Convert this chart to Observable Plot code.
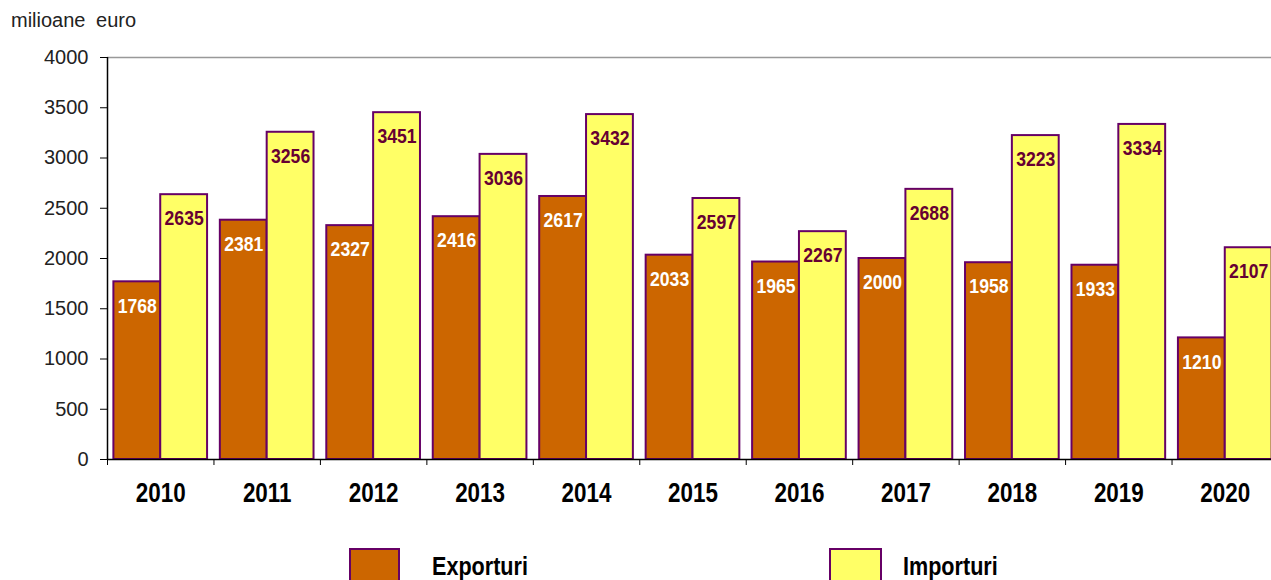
<!DOCTYPE html>
<html>
<head>
<meta charset="utf-8">
<script src="https://cdn.jsdelivr.net/npm/d3@7"></script>
<script src="https://cdn.jsdelivr.net/npm/@observablehq/plot@0.6"></script>
<style>
  html, body { margin: 0; padding: 0; background: #fff; overflow: hidden; width: 1271px; height: 580px; }
  #wrap { position: relative; width: 1271px; height: 580px; overflow: hidden; }
  #unit { position: absolute; z-index: 2; left: 11px; top: 9px; font: 20px "Liberation Sans", Arial, sans-serif; color: #222; word-spacing: 5px; }
  #chart { position: absolute; z-index: 1; left: 0; top: 0; width: 1280px; }
  #chart svg { max-width: none !important; }
  .leg { position: absolute; z-index: 2; top: 548px; display: flex; align-items: flex-start; }
  .sw { width: 51px; height: 40px; box-sizing: border-box; border: 2px solid #660066; }
  .lt { display: inline-block; font: bold 26px "Liberation Sans", Arial, sans-serif; color: #000; margin-left: 32px; margin-top: 3px; transform: scaleX(0.83); transform-origin: left top; white-space: nowrap; }
</style>
</head>
<body>
<div id="wrap">
  <div id="unit">milioane euro</div>
  <div id="chart"></div>
  <div class="leg" style="left:349px"><div class="sw" style="background:#CC6600"></div><div class="lt">Exporturi</div></div>
  <div class="leg" style="left:829px"><div class="sw" style="background:#FFFF66;width:53px"></div><div class="lt" style="margin-left:21px">Importuri</div></div>
</div>
<script>
const years = [2010, 2011, 2012, 2013, 2014, 2015, 2016, 2017, 2018, 2019, 2020];
const exporturi = [1768, 2381, 2327, 2416, 2617, 2033, 1965, 2000, 1958, 1933, 1210];
const importuri = [2635, 3256, 3451, 3036, 3432, 2597, 2267, 2688, 3223, 3334, 2107];
const yTicks = [0, 500, 1000, 1500, 2000, 2500, 3000, 3500, 4000];
const seriesNames = ["Exporturi", "Importuri"];

const barHalf = 0.44;
const rows = [];
years.forEach((yr, i) => {
  rows.push({year: yr, series: seriesNames[0], value: exporturi[i], x1: yr - barHalf, x2: yr});
  rows.push({year: yr, series: seriesNames[1], value: importuri[i], x1: yr, x2: yr + barHalf});
});
const boundaries = years.map(y => y - 0.5).concat([years[years.length - 1] + 0.5]);

const chart = Plot.plot({
  width: 1280,
  height: 532,
  marginTop: 57,
  marginBottom: 73,
  marginLeft: 107,
  marginRight: 2,
  style: {fontFamily: '"Liberation Sans", Arial, sans-serif', background: "transparent", overflow: "visible", maxWidth: "none"},
  x: {type: "linear", domain: [boundaries[0], boundaries[boundaries.length - 1]], axis: null, label: null},
  y: {domain: [0, 4000], axis: null, label: null},
  color: {domain: seriesNames, range: ["#CC6600", "#FFFF66"]},
  marks: [
    Plot.ruleY([4000], {stroke: "#999", strokeWidth: 1.5}),
    Plot.rectY(rows, {x1: "x1", x2: "x2", y: "value", fill: "series", stroke: "#660066", strokeWidth: 2}),
    Plot.text(rows, {
      x: d => (d.x1 + d.x2) / 2, y: "value", text: d => String(d.value),
      dy: 24, fill: d => d.series === seriesNames[0] ? "#fff" : "#660033",
      fontWeight: "bold", fontSize: 21, className: "narrow-val"
    }),
    Plot.ruleY([0], {stroke: "#000", strokeWidth: 1.5}),
    Plot.ruleX([boundaries[0]], {stroke: "#000", strokeWidth: 1.5}),
    Plot.axisY({ticks: yTicks, tickSize: 7, tickPadding: 12, fontSize: 20, label: null, tickFormat: d => String(d), color: "#222", stroke: "#000"}),
    Plot.axisX({ticks: boundaries, tickSize: 6, label: null, tickFormat: () => "", stroke: "#000"}),
    Plot.axisX({ticks: years, tickSize: 0, tickPadding: 23, label: null, tickFormat: d => String(d), fontSize: 27, fontWeight: "bold", fill: "#000", className: "narrow-year"})
  ]
});
document.getElementById("chart").appendChild(chart);

function condense(selector, k) {
  chart.querySelectorAll(selector).forEach(t => {
    const w = t.getComputedTextLength();
    t.setAttribute("textLength", (w * k).toFixed(1));
    t.setAttribute("lengthAdjust", "spacingAndGlyphs");
  });
}
condense(".narrow-val text", 0.84);
condense(".narrow-year text", 0.83);
</script>
</body>
</html>
